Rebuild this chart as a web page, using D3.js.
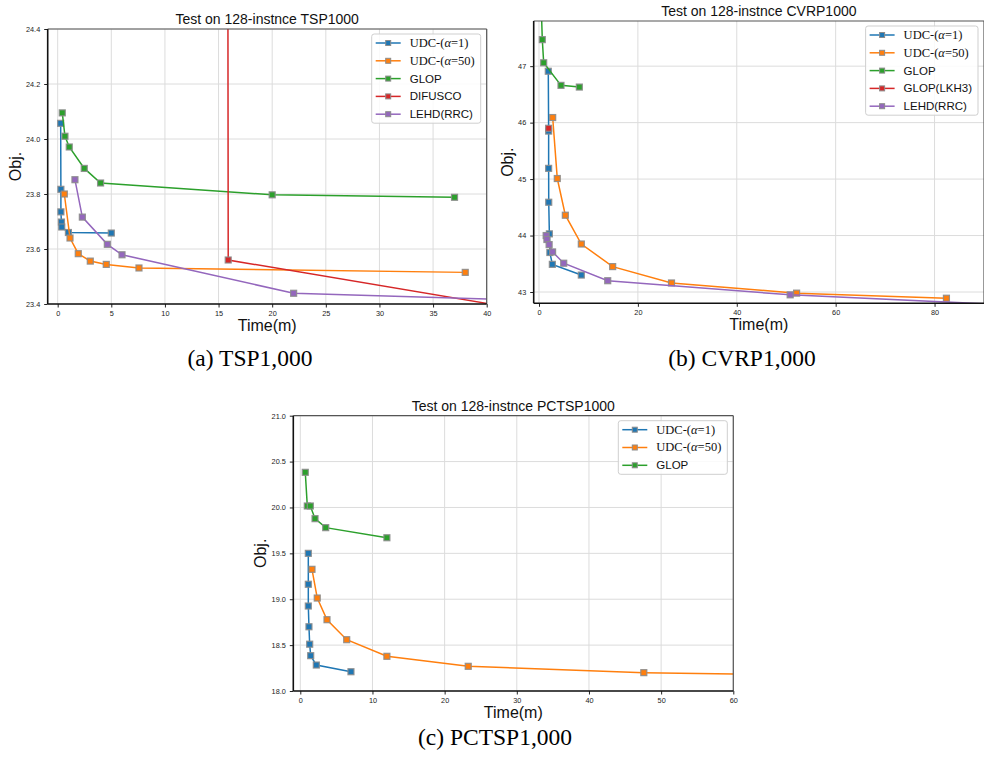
<!DOCTYPE html>
<meta charset="utf-8">
<style>
	body { margin: 0; background: #fff; }
	svg text { font-family: "Liberation Sans", Arial, sans-serif; }
	svg text.serif { font-family: "Liberation Serif", "Times New Roman", serif; }
</style>
<body>
<svg id="fig" width="984" height="757"></svg>

<script src="https://cdn.jsdelivr.net/npm/d3@7"></script>
<script>
	// ---- data: [time (min), objective] ----
	// TSP1000
	const tspUdc1 = [[0.28, 24.057], [0.30, 23.817], [0.30, 23.735], [0.35, 23.698], [0.38, 23.680], [1.0, 23.660], [5.0, 23.658]];
	const tspUdc50 = [[0.62, 23.800], [1.15, 23.640], [1.92, 23.583], [3.04, 23.556], [4.53, 23.544], [7.58, 23.531], [38.0, 23.515]];
	const tspGlop = [[0.43, 24.095], [0.68, 24.010], [1.08, 23.971], [2.48, 23.893], [4.0, 23.840], [20.0, 23.797], [37.0, 23.788]];
	const tspDifusco = [[15.86, 24.9], [15.9, 23.560], [48.0, 23.350]];
	const tspLehd = [[1.61, 23.852], [2.3, 23.716], [4.63, 23.617], [6.0, 23.579], [22.0, 23.439], [45.0, 23.412]];

	// CVRP1000
	const cvrpUdc1 = [[1.88, 46.91], [1.95, 45.85], [1.95, 45.19], [1.97, 44.59], [2.1, 44.03], [2.2, 43.70], [2.7, 43.49], [8.56, 43.30]];
	const cvrpUdc50 = [[2.77, 46.09], [3.7, 45.01], [5.33, 44.36], [8.56, 43.85], [14.9, 43.45], [26.8, 43.16], [52.1, 42.98], [82.4, 42.89]];
	const cvrpGlop = [[0.4, 48.2], [0.67, 47.47], [0.95, 47.06], [4.45, 46.66], [8.16, 46.63]];
	const cvrpGlopLkh = [[1.95, 45.90]];
	const cvrpLehd = [[1.45, 44.00], [1.6, 43.93], [2.05, 43.84], [2.75, 43.71], [5.0, 43.51], [13.9, 43.20], [50.8, 42.95], [95.0, 42.77]];

	// PCTSP1000
	const pctspUdc1 = [[1.11, 19.50], [1.11, 19.163], [1.11, 18.926], [1.2, 18.70], [1.3, 18.51], [1.44, 18.385], [2.22, 18.283], [7.02, 18.21]];
	const pctspUdc50 = [[1.62, 19.326], [2.35, 19.013], [3.7, 18.777], [6.43, 18.559], [12.0, 18.378], [23.27, 18.269], [47.6, 18.20], [70.0, 18.175]];
	const pctspGlop = [[0.69, 20.383], [0.97, 20.016], [1.39, 20.016], [2.04, 19.878], [3.52, 19.78], [12.0, 19.67]];

	// ticks
	const tspXTicks = [0, 5, 10, 15, 20, 25, 30, 35, 40];
	const tspYTicks = [23.4, 23.6, 23.8, 24.0, 24.2, 24.4];
	const cvrpXTicks = [0, 20, 40, 60, 80];
	const cvrpYTicks = [43, 44, 45, 46, 47];
	const pctspXTicks = [0, 10, 20, 30, 40, 50, 60];
	const pctspYTicks = [18.0, 18.5, 19.0, 19.5, 20.0, 20.5, 21.0];

	const C = { blue: "#1f77b4", orange: "#ff7f0e", green: "#2ca02c", red: "#d62728", purple: "#9467bd" };

	const panels = [
		{
			id: "a", title: "Test on 128-instnce TSP1000", caption: "(a) TSP1,000", capX: 250, capY: 366,
			box: [47.7, 29, 486.7, 304], xDomain: [-0.93, 40], yDomain: [23.4, 24.4],
			xTicks: tspXTicks, yTicks: tspYTicks, yFmt: d3.format(".1f"), ylabOff: 27,
			series: [
				{ label: ["UDC-(", "α", "=1)"], data: tspUdc1, color: C.blue },
				{ label: ["UDC-(", "α", "=50)"], data: tspUdc50, color: C.orange },
				{ label: "GLOP", data: tspGlop, color: C.green },
				{ label: "DIFUSCO", data: tspDifusco, color: C.red },
				{ label: "LEHD(RRC)", data: tspLehd, color: C.purple }
			]
		},
		{
			id: "b", title: "Test on 128-instnce CVRP1000", caption: "(b) CVRP1,000", capX: 742, capY: 366,
			box: [533.7, 21, 984, 303.3], xDomain: [-1.07, 90], yDomain: [42.8, 47.8],
			xTicks: cvrpXTicks, yTicks: cvrpYTicks, yFmt: d3.format("d"), ylabOff: 21,
			series: [
				{ label: ["UDC-(", "α", "=1)"], data: cvrpUdc1, color: C.blue },
				{ label: ["UDC-(", "α", "=50)"], data: cvrpUdc50, color: C.orange },
				{ label: "GLOP", data: cvrpGlop, color: C.green },
				{ label: "GLOP(LKH3)", data: cvrpGlopLkh, color: C.red },
				{ label: "LEHD(RRC)", data: cvrpLehd, color: C.purple }
			]
		},
		{
			id: "c", title: "Test on 128-instnce PCTSP1000", caption: "(c) PCTSP1,000", capX: 495, capY: 745,
			box: [293.3, 415.7, 733.3, 691], xDomain: [-0.97, 60], yDomain: [18.0, 21.0],
			xTicks: pctspXTicks, yTicks: pctspYTicks, yFmt: d3.format(".1f"), ylabOff: 27,
			series: [
				{ label: ["UDC-(", "α", "=1)"], data: pctspUdc1, color: C.blue },
				{ label: ["UDC-(", "α", "=50)"], data: pctspUdc50, color: C.orange },
				{ label: "GLOP", data: pctspGlop, color: C.green }
			]
		}
	];

	const svg = d3.select("#fig");

	function drawPanel(p) {
		const [x0, y0, x1, y1] = p.box;
		const x = d3.scaleLinear().domain(p.xDomain).range([x0, x1]);
		const y = d3.scaleLinear().domain(p.yDomain).range([y1, y0]);
		const g = svg.append("g").attr("class", "panel-" + p.id);

		// clip to the axes area
		g.append("clipPath").attr("id", "clip-" + p.id)
			.append("rect").attr("x", x0).attr("y", y0).attr("width", x1 - x0).attr("height", y1 - y0);

		// grid
		g.append("g").selectAll("line").data(p.xTicks).enter().append("line")
			.attr("x1", d => x(d)).attr("x2", d => x(d)).attr("y1", y0).attr("y2", y1)
			.attr("stroke", "#dcdcdc").attr("stroke-width", 1);
		g.append("g").selectAll("line").data(p.yTicks).enter().append("line")
			.attr("y1", d => y(d)).attr("y2", d => y(d)).attr("x1", x0).attr("x2", x1)
			.attr("stroke", "#dcdcdc").attr("stroke-width", 1);

		// axes (ticks + labels only, spines drawn below)
		const xAxis = g.append("g").attr("transform", `translate(0,${y1})`)
			.call(d3.axisBottom(x).tickValues(p.xTicks).tickSize(3.5).tickPadding(3).tickFormat(d3.format("d")));
		const yAxis = g.append("g").attr("transform", `translate(${x0},0)`)
			.call(d3.axisLeft(y).tickValues(p.yTicks).tickSize(3.5).tickPadding(4).tickFormat(p.yFmt));
		[xAxis, yAxis].forEach(a => {
			a.select(".domain").remove();
			a.selectAll("text").attr("font-size", 7.3).attr("fill", "#222");
			a.selectAll("line").attr("stroke", "#222");
		});

		// lines + markers
		const line = d3.line().x(d => x(d[0])).y(d => y(d[1]));
		const plot = g.append("g").attr("clip-path", `url(#clip-${p.id})`);
		p.series.forEach(s => {
			plot.append("path").datum(s.data)
				.attr("d", line).attr("fill", "none")
				.attr("stroke", s.color).attr("stroke-width", 1.5);
			plot.append("g").selectAll("rect").data(s.data).enter().append("rect")
				.attr("x", d => x(d[0]) - 3).attr("y", d => y(d[1]) - 3)
				.attr("width", 6).attr("height", 6)
				.attr("fill", s.color).attr("stroke", "#8c8c8c").attr("stroke-width", 1.2)
				.attr("stroke-opacity", 0.9);
		});

		// spines
		g.append("line").attr("x1", x0).attr("x2", x1).attr("y1", y0).attr("y2", y0).attr("stroke", "#555").attr("stroke-width", 1.2);
		g.append("line").attr("x1", x1).attr("x2", x1).attr("y1", y0).attr("y2", y1).attr("stroke", "#555").attr("stroke-width", 1.2);
		g.append("line").attr("x1", x0).attr("x2", x0).attr("y1", y0).attr("y2", y1).attr("stroke", "#111").attr("stroke-width", 1.6);
		g.append("line").attr("x1", x0).attr("x2", x1).attr("y1", y1).attr("y2", y1).attr("stroke", "#111").attr("stroke-width", 1.6);

		// title and axis labels
		g.append("text").attr("x", (x0 + x1) / 2).attr("y", y0 - 5)
			.attr("text-anchor", "middle").attr("font-size", 14).attr("fill", "#111").text(p.title);
		g.append("text").attr("x", (x0 + x1) / 2).attr("y", y1 + 27)
			.attr("text-anchor", "middle").attr("font-size", 16).attr("fill", "#111").text("Time(m)");
		g.append("text")
			.attr("transform", `translate(${x0 - p.ylabOff},${(y0 + y1) / 2}) rotate(-90)`)
			.attr("text-anchor", "middle").attr("font-size", 16).attr("fill", "#111").text("Obj.");

		// legend (upper right)
		const step = 17.8;
		const lg = g.append("g");
		const bg = lg.append("rect").attr("rx", 2.5).attr("ry", 2.5)
			.attr("fill", "#fff").attr("fill-opacity", 0.85).attr("stroke", "#cfcfcf");
		let maxW = 0;
		p.series.forEach((s, i) => {
			const cy = 9 + i * step;
			lg.append("line").attr("x1", 4).attr("x2", 29).attr("y1", cy).attr("y2", cy)
				.attr("stroke", s.color).attr("stroke-width", 1.5);
			lg.append("rect").attr("x", 16.5 - 2.5).attr("y", cy - 2.5).attr("width", 5).attr("height", 5)
				.attr("fill", s.color).attr("stroke", "#8c8c8c").attr("stroke-width", 1);
			const t = lg.append("text").attr("x", 38).attr("y", cy + 4).attr("fill", "#111");
			if (Array.isArray(s.label)) {
				t.attr("class", "serif").attr("font-size", 12.5);
				t.append("tspan").text(s.label[0]);
				t.append("tspan").attr("font-style", "italic").text(s.label[1]);
				t.append("tspan").text(s.label[2]);
			} else {
				t.attr("font-size", 11.5).text(s.label);
			}
			maxW = Math.max(maxW, t.node().getComputedTextLength());
		});
		const lw = 38 + maxW + 6, lh = 18 + (p.series.length - 1) * step;
		bg.attr("width", lw).attr("height", lh);
		lg.attr("transform", `translate(${x1 - 6 - lw},${y0 + 5})`);

		// caption below the panel
		svg.append("text").attr("class", "serif")
			.attr("x", p.capX).attr("y", p.capY)
			.attr("text-anchor", "middle")
			.attr("font-size", 23.5).attr("fill", "#000")
			.text(p.caption);
	}

	panels.forEach(drawPanel);
</script>
</body>
